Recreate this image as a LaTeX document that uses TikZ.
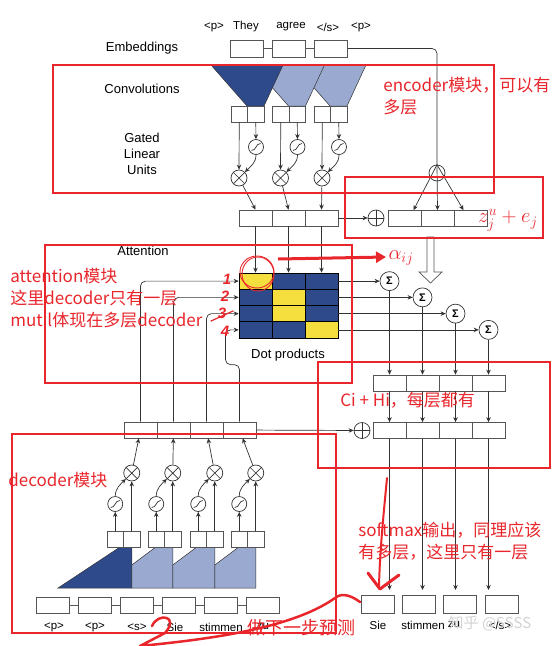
\documentclass[tikz,border=0pt]{standalone}
\usepackage{fontspec}
\setmainfont{Liberation Sans}
\newfontfamily\cjk{Noto Sans CJK SC}
\usetikzlibrary{arrows.meta, positioning, calc}
\definecolor{cdark}{HTML}{2F4A8A}
\definecolor{clight}{HTML}{9AA9CF}
\definecolor{cyell}{HTML}{F5DF3E}
\definecolor{cline}{HTML}{333333}
\definecolor{cbox}{HTML}{555555}
\definecolor{cred}{HTML}{E8262B}
\tikzset{
  every picture/.style={line width=0.7pt},
  cell/.style={draw=cbox, fill=white, inner sep=0pt, minimum width=33pt, minimum height=16pt},
  halfcell/.style={cell, minimum width=16.5pt},
  gcell/.style={draw=black, fill=cdark, inner sep=0pt, minimum width=33pt, minimum height=16.25pt},
  op/.style={circle, draw=cline, fill=white, inner sep=0pt, minimum size=16pt},
  mulop/.style={op, path picture={\draw[cline] (path picture bounding box.north west) -- (path picture bounding box.south east) (path picture bounding box.north east) -- (path picture bounding box.south west);}},
  addop/.style={op, path picture={\draw[cline] (path picture bounding box.north) -- (path picture bounding box.south) (path picture bounding box.west) -- (path picture bounding box.east);}},
  sigop/.style={op, minimum size=15pt, path picture={\draw[cline] ([shift={(-4.5pt,-3.5pt)}]path picture bounding box.center) .. controls +(5pt,0pt) and +(-5pt,0pt) .. ([shift={(4.5pt,3.5pt)}]path picture bounding box.center);}},
  sumop/.style={op, minimum size=19pt, font=\fontsize{11}{11}\selectfont\bfseries},
  arrow/.style={-{Stealth[length=5pt,width=4.5pt]}, draw=cline},
  lbl/.style={font=\fontsize{13}{16}\selectfont, inner sep=0pt},
  tok/.style={font=\fontsize{11.5}{14}\selectfont, inner sep=0pt},
  redbox/.style={draw=cred, line width=2.2pt},
  note/.style={font=\cjk\fontsize{17}{22}\selectfont, text=cred, anchor=west, inner sep=0pt},
  hand/.style={text=cred, inner sep=0pt, font=\fontsize{15}{15}\selectfont\bfseries\itshape},
  scrawl/.style={draw=cred, line width=1.6pt, line cap=round, line join=round},
}
\begin{document}
\begin{tikzpicture}[x=1pt, y=-1pt]
\useasboundingbox (0,0) rectangle (554,646);

% encoder side
\foreach \w/\x [count=\j] in {<p>/214, They/246, agree/291, {</s>}/328, <p>/361}
  \node[tok] (src\j) at (\x,27) {\w};
\foreach \x [count=\j] in {246.5,289,331}
  \node[cell, minimum height=17pt] (emb\j) at (\x,48.5) {};
\draw[cbox] (emb1) -- (emb2) (emb2) -- (emb3);

\foreach \x/\c in {314/clight, 272.5/clight, 231/cdark}
  \filldraw[fill=\c, draw=cline, line width=0.5pt] (\x-20,65) -- (\x+52,65) -- (\x+33,106) -- (\x+16,106) -- cycle;

\foreach \x [count=\j] in {231,272.5,314} {
  \node[halfcell] (ga\j) at (\x+8.25,114) {};
  \node[halfcell] (gb\j) at (\x+24.75,114) {};
  \node[sigop] (gs\j) at (\x+25,147) {};
  \node[mulop] (gm\j) at (\x+8,178) {};
  \draw[arrow] (ga\j) -- (gm\j);
  \draw[arrow] (gb\j) -- (gs\j);
  \draw[arrow] (gs\j.south) .. controls +(0pt,-8pt) and +(6pt,6pt) .. (gm\j.north east);
}
\foreach \j in {1,2,3} {
  \node[cell] (enc\j) at (255.5+33*\j-33,218) {};
  \draw[arrow] (gm\j) -- (enc\j.north);
}
\node[addop] (addE) at (376,218) {};
\draw[arrow] (enc3) -- (addE);
\foreach \j in {1,2,3}
  \node[cell] (zb\j) at (404.5+33*\j-33,218.5) {};
\node[op] (split) at (437,173) {};
\draw[cline, rounded corners=5pt] (emb3.east) -| (split.north);
\foreach \s in {-24,0,26}
  \draw[arrow] (split.north) -- ([xshift=\s pt]zb2.north);
\draw[cbox, fill=white] (427,237) -- (434,237) -- (434,272) -- (442,272) -- (430.5,283) -- (419,272) -- (427,272) -- cycle;

% attention
\foreach \r in {1,...,4}
  \foreach \c in {1,2,3}
    \node[gcell] (g\r\c) at (255.5+33*\c-33, 281.125+16.25*\r-16.25) {};
\foreach \r/\c in {1/1,2/2,3/2,4/3}
  \node[gcell, fill=cyell] (hit\r) at (g\r\c) {};
\foreach \j in {1,2,3} \draw[arrow] (enc\j) -- (g1\j);

\foreach \r/\x in {1/389.5,2/422.5,3/455.5,4/488.5} {
  \node[sumop] (sum\r) at (\x, 281.125+16.25*\r-16.25) {Σ};
  \draw[arrow] (g\r3) -- (sum\r);
}
\node[addop] (addD) at (362,430.5) {};
\coordinate (outtop) at (0,590);
\foreach \j in {1,...,4} {
  \node[cell] (cb\j) at (389.5+33*\j-33,383) {};
  \node[cell] (hb\j) at (389.5+33*\j-33,430.5) {};
  \draw[arrow] (sum\j) -- (cb\j);
  \draw[arrow] (cb\j) -- (hb\j);
  \draw[arrow] (hb\j) -- (hb\j |- outtop);
}
\foreach \x [count=\j] in {377.5,418.5,460,502}
  \node[cell, minimum height=18pt] (ob\j) at (\x,604) {};
\foreach \w/\x [count=\j] in {Sie/378, stimmen/423, zu/454, {</s>}/500}
  \node[tok] (tgt\j) at (\x,625) {\w};
\node[font=\cjk\fontsize{15}{18}\selectfont, text=gray!35, inner sep=0pt] (mark) at (490,623) {知乎 @SSSS};

% decoder side
\foreach \x [count=\j] in {52.5,94.5,136.5,178.5,220.5,262.5}
  \node[cell] (din\j) at (\x,605) {};
\foreach \j [evaluate=\j as \k using int(\j+1)] in {1,...,5}
  \draw[cbox] (din\j) -- (din\k);
\foreach \w/\x [count=\j] in {<p>/54, <p>/95, <s>/137, Sie/175, stimmen/221, zu/263}
  \node[tok] (dw\j) at (\x,627) {\w};

\filldraw[fill=cdark, draw=cline, line width=0.5pt] (58,588) -- (120,547) -- (131.75,547) -- (131.75,588) -- cycle;
\foreach \l/\r in {131.75/172.75, 172.75/214.75, 214.75/255.75}
  \filldraw[fill=clight, draw=cline, line width=0.5pt] (\l,588) -- (\l,565) -- (\l+24,547) -- (\r,547) -- (\r,588) -- cycle;

\foreach \x [count=\j] in {107,148,190,231} {
  \node[halfcell] (da\j) at (\x+8.25,539) {};
  \node[halfcell] (db\j) at (\x+24.75,539) {};
  \node[sigop] (ds\j) at (\x+8.25,504) {};
  \node[mulop] (dm\j) at (\x+24.75,473) {};
  \draw[arrow] (da\j) -- (ds\j);
  \draw[arrow] (db\j) -- (dm\j);
  \draw[arrow] (ds\j.north) .. controls +(0pt,8pt) and +(-5pt,-5pt) .. (dm\j.south west);
}
\foreach \j in {1,...,4} {
  \node[cell] (dout\j) at (140.5+33*\j-33,430) {};
  \draw[arrow] (dm\j) -- (dout\j);
}
\draw[arrow] (dout4) -- (addD);
\foreach \j in {1,2,3}
  \draw[arrow, rounded corners=5pt] (dout\j.north) |- (g\j1.west);
\draw[arrow, rounded corners=5pt] (dout4.north) -- ++(0,-57) -- ++(-14,0) |- (g41.west);

% labels
\node[lbl] (embL) at (142,48) {Embeddings};
\node[lbl] (convL) at (142,89) {Convolutions};
\node[lbl, align=center] (gluL) at (142,154) {Gated\\Linear\\Units};
\node[lbl] (attL) at (143,251) {Attention};
\node[lbl] (dotL) at (288,355) {Dot products};

% red notes on top
\draw[redbox] (53,65) rectangle (494,193);
\draw[redbox] (345,177) rectangle (543,238);
\draw[redbox] (45,245) rectangle (352,383);
\draw[redbox] (318,362) rectangle (550,468);
\draw[redbox] (12,434) rectangle (336,633);

\node[note] (encN1) at (383,85) {encoder模块，可以有};
\node[note] (encN2) at (383,107) {多层};
\node[note] (attN1) at (10,276) {attention模块};
\node[note] (attN2) at (10,298) {这里decoder只有一层};
\node[note] (attN3) at (10,320) {mutil体现在多层decoder};
\node[note] (addN) at (340,400) {Ci + Hi，每层都有};
\node[note] (decN) at (8,480) {decoder模块};
\node[note] (outN1) at (358,530) {softmax输出，同理应该};
\node[note] (outN2) at (358,552) {有多层，这里只有一层};
\node[note, font=\cjk\fontsize{18}{22}\selectfont] (nextN) at (247,628) {做下一步预测};

% hand marks
\node[hand] (k1) at (227,279) {1};
\node[hand] (k2) at (225,296) {2};
\node[hand] (k3) at (222,313) {3};
\node[hand] (k4) at (225,331) {4};
\draw[scrawl, line width=1.2pt] (211,321) -- (233,311);
\draw[scrawl, line width=0.9pt] (257,272) ellipse (17pt and 16pt);
\draw[scrawl, line width=0.9pt] (258,274) ellipse (16pt and 17pt);
\draw[draw=cred, line width=3pt, -{Triangle[length=10pt,width=11pt]}] (278,259) -- (386,257);
\node[hand, font=\fontsize{22}{22}\selectfont] (zN) at (508,220) {$z^{u}_{j}+e_{j}$};
\node[hand, font=\fontsize{20}{20}\selectfont] (aN) at (401,258) {$\alpha_{ij}$};
\draw[scrawl, line width=2pt] (387,478) .. controls (383,520) and (380,550) .. (379,586);
\draw[scrawl, line width=3pt] (368,573) -- (380,589) -- (399,575);
\draw[scrawl, line width=2.5pt] (152,626) .. controls (158,612) and (180,616) .. (165,633) -- (140,646) .. controls (200,640) and (290,630) .. (335,598) .. controls (342,592) and (352,596) .. (360,602);
\end{tikzpicture}
\end{document}
